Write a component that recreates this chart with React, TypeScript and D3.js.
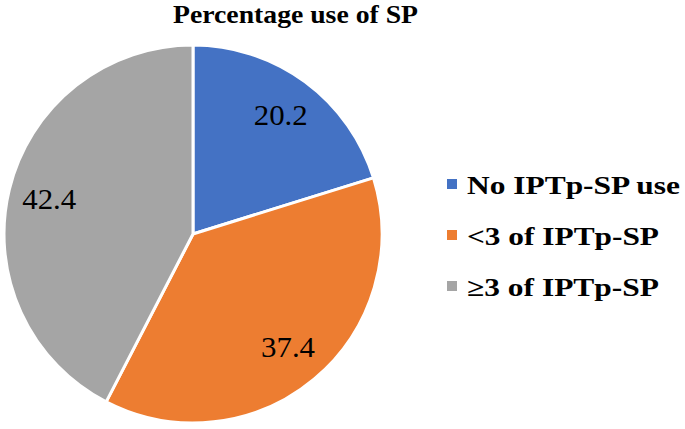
import React from "react";
import * as d3 from "d3";

const categories = ["No IPTp-SP use", "<3 of IPTp-SP", "≥3 of IPTp-SP"];
const values = [20.2, 37.4, 42.4];
const labels = ["20.2", "37.4", "42.4"];
const colors = ["#4472C4", "#ED7D31", "#A5A5A5"];
const legendWidths = [213, 192, 192];
const title = "Percentage use of SP";

const FONT = "'Liberation Serif', 'Times New Roman', serif";

export default function App() {
  const W = 685, H = 429;
  const cx = 193, cy = 234, r = 189;
  const pie = d3.pie<number>().value((d) => d).sort(null);
  const arcs = pie(values);
  const arcGen = d3.arc<d3.PieArcDatum<number>>().innerRadius(0).outerRadius(r);
  const labelArc = d3.arc<d3.PieArcDatum<number>>().innerRadius(148).outerRadius(148);
  return (
    <svg width={W} height={H} style={{ position: "absolute", left: 0, top: 0, background: "#fff" }}>
      <text x={173} y={23} style={{ fontFamily: FONT }} fontWeight="bold" fontSize={25}
        textLength={245} lengthAdjust="spacingAndGlyphs">{title}</text>
      <g transform={`translate(${cx},${cy})`}>
        {arcs.map((a, i) => (
          <path key={i} d={arcGen(a) || ""} fill={colors[i]} stroke="#fff" strokeWidth={3} strokeLinejoin="round" />
        ))}
        {arcs.map((a, i) => {
          const [x, y] = labelArc.centroid(a);
          return (
            <text key={i} x={x} y={y + 10} textAnchor="middle" style={{ fontFamily: FONT }} fontSize={30}
              textLength={54} lengthAdjust="spacingAndGlyphs" fill="#000">{labels[i]}</text>
          );
        })}
      </g>
      {categories.map((c, i) => (
        <g key={i} transform={`translate(447,${179 + i * 51})`}>
          <rect x={0} y={0} width={10} height={10} fill={colors[i]} />
          <text x={20} y={15} style={{ fontFamily: FONT }} fontWeight="bold" fontSize={25}
            textLength={legendWidths[i]} lengthAdjust="spacingAndGlyphs" fill="#000">{c}</text>
        </g>
      ))}
    </svg>
  );
}
